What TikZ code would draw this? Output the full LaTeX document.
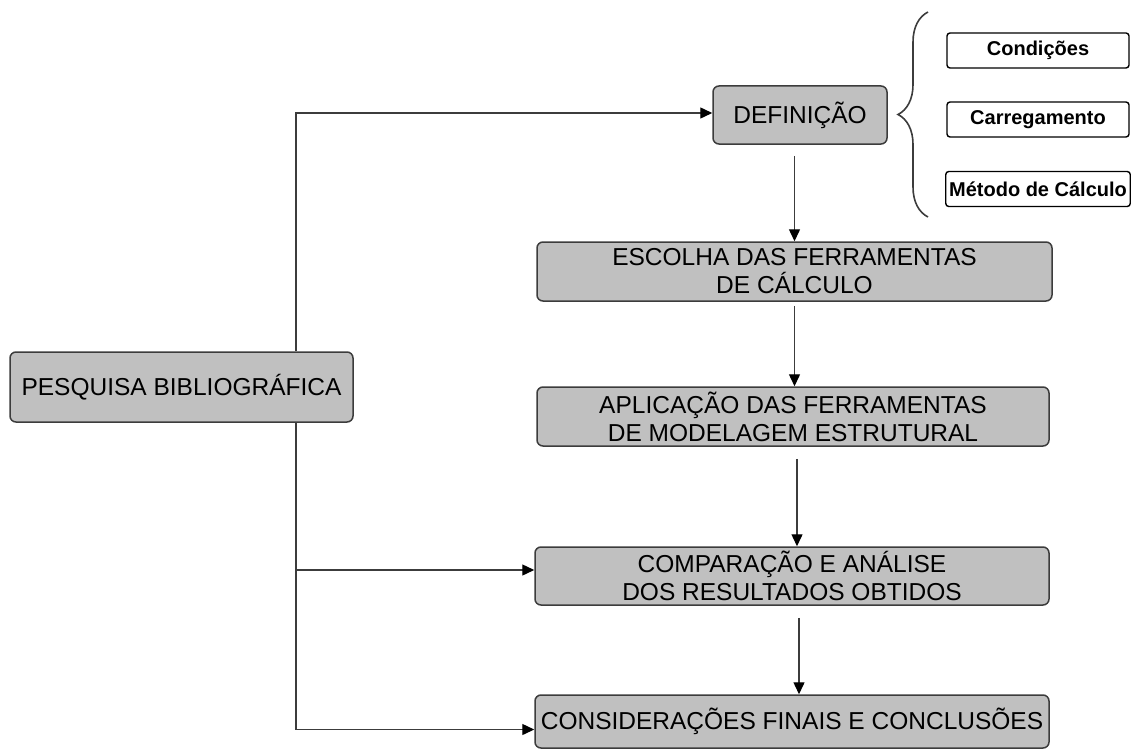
\documentclass[tikz,border=0pt]{standalone}
\usepackage{fontspec}
\setmainfont{Liberation Sans}
\usetikzlibrary{arrows.meta, decorations.pathreplacing}
\definecolor{boxgray}{HTML}{C0C0C0}
\definecolor{linegray}{HTML}{3C3C3C}
\tikzstyle{stage} = [
    rectangle,
    rounded corners=6pt,
    fill=boxgray,
    draw=linegray,
    line width=1.5pt,
    align=center,
    font=\fontsize{24.5}{28}\selectfont
]
\tikzstyle{item} = [
    rectangle,
    rounded corners=3pt,
    fill=white,
    draw=black,
    line width=1.4pt,
    minimum width=182pt,
    minimum height=35pt,
    font=\fontsize{20}{24}\selectfont\bfseries
]
\tikzstyle{arrow} = [draw=linegray, line width=1.4pt, -{Triangle[length=12pt,width=11pt,color=black]}]

\begin{document}
\begin{tikzpicture}[x=1pt, y=-1pt]
\useasboundingbox (0,0) rectangle (1137,749);

\node (pesquisa) [stage, minimum width=343pt, minimum height=70pt] at (181.5,387)
{PESQUISA BIBLIOGRÁFICA};

\node (definicao) [stage, minimum width=174pt, minimum height=58pt] at (800,115)
{DEFINIÇÃO};

\node (condicoes) [item] at (1038,50.5) {Condições};
\node (carregamento) [item] at (1038,119.5) {Carregamento};
\node (metodo) [item] at (1038,189) {Método de Cálculo};

\node (escolha) [stage, minimum width=515pt, minimum height=59pt] at (794.5,271.5)
{ESCOLHA DAS FERRAMENTAS\\DE CÁLCULO};

\node (aplicacao) [stage, minimum width=512pt, minimum height=59pt] at (793,416.5)
{APLICAÇÃO DAS FERRAMENTAS\\DE MODELAGEM ESTRUTURAL};

\node (comparacao) [stage, minimum width=514pt, minimum height=58pt] at (792,576)
{COMPARAÇÃO E ANÁLISE\\DOS RESULTADOS OBTIDOS};

\node (consideracoes) [stage, minimum width=514pt, minimum height=53pt] at (792,721.5)
{CONSIDERAÇÕES FINAIS E CONCLUSÕES};

% chave das definicoes
\coordinate (chavebaixo) at (928,217);
\coordinate (chavetopo) at (928,12);
\draw [linegray, line width=1.6pt, decorate, decoration={brace, amplitude=30pt}]
    (chavebaixo) -- (chavetopo);

% sequencia principal
\draw [arrow, shorten <=11pt] (definicao.south -| escolha.north) -- (escolha.north);
\draw [arrow, shorten <=4pt] (escolha.south) -- (escolha.south |- aplicacao.north);
\draw [arrow, shorten <=12pt] ([xshift=4pt]aplicacao.south) -- ([xshift=4pt]aplicacao.south |- comparacao.north);
\draw [arrow, shorten <=12pt] ([xshift=7pt]comparacao.south) -- ([xshift=7pt]comparacao.south |- consideracoes.north);

% ramos da pesquisa
\coordinate (ramo) at (296,0);
\draw [arrow] (pesquisa.north -| ramo) |- ([yshift=2pt]definicao.west);
\draw [arrow] (pesquisa.south -| ramo) |- ([yshift=6pt]comparacao.west);
\draw [arrow] (pesquisa.south -| ramo) |- ([yshift=-8pt]consideracoes.west);

\end{tikzpicture}
\end{document}
